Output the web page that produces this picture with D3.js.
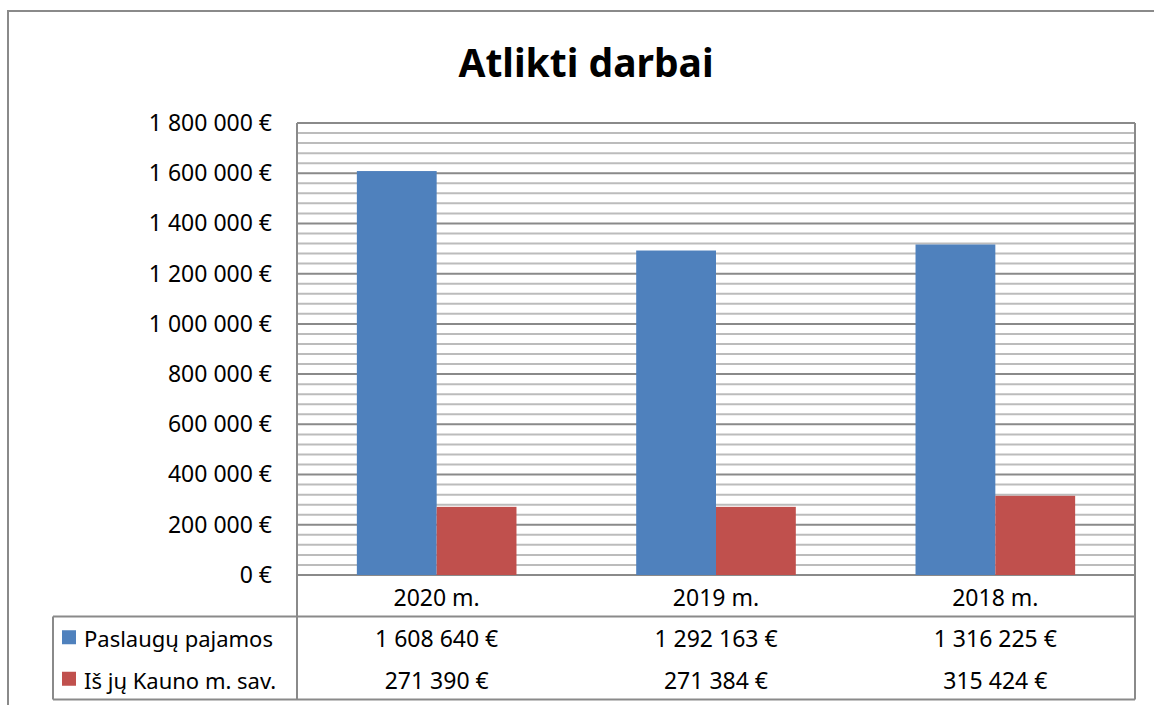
<!DOCTYPE html>
<html>
<head>
<meta charset="utf-8">
<script src="https://cdn.jsdelivr.net/npm/d3@7"></script>
<style>
  body { margin: 0; background: #fff; }
  text { font-family: 'Noto Sans', 'Open Sans', sans-serif; fill: #000; }
</style>
</head>
<body>
<div id="chart"></div>
<script>
const categories = ['2020 m.', '2019 m.', '2018 m.'];
const seriesNames = ['Paslaugų pajamos', 'Iš jų Kauno m. sav.'];
const paslauguPajamos = [1608640, 1292163, 1316225];
const kaunoSav = [271390, 271384, 315424];
const seriesColors = ['#4F81BD', '#C0504D'];
const yMax = 1800000;
const majorStep = 200000;
const minorStep = 40000;

const W = 1154;
const H = 705;
const plot = { left: 297, right: 1135, top: 123, bottom: 575 };
const table = { left: 53, rowH: 41.5 };
const fontSize = '23px';

const locale = d3.formatLocale({ decimal: ',', thousands: '\u00a0', grouping: [3], currency: ['', ' €'] });
const fmt = (v) => `${locale.format(',')(v)} €`;

const svg = d3.select('#chart')
  .append('svg')
  .attr('width', W)
  .attr('height', H);

// outer frame (runs off the right and bottom edge)
svg.append('rect')
  .attr('x', 8).attr('y', 11)
  .attr('width', 1300).attr('height', 900)
  .attr('fill', 'none')
  .attr('stroke', '#8a8a8a')
  .attr('stroke-width', 2);

svg.append('text')
  .attr('x', 586)
  .attr('y', 77)
  .attr('text-anchor', 'middle')
  .style('font-size', '39px')
  .style('font-weight', 'bold')
  .text('Atlikti darbai');

const y = d3.scaleLinear().domain([0, yMax]).range([plot.bottom, plot.top]);
const x = d3.scaleBand().domain(categories).range([plot.left, plot.right]);
const xs = d3.scaleBand().domain(seriesNames).range([0, x.bandwidth()]).paddingOuter(0.75);

// gridlines
const minor = d3.range(0, yMax + 1, minorStep).filter((v) => v % majorStep !== 0);
svg.append('g').selectAll('line')
  .data(minor).enter()
  .append('line')
  .attr('x1', plot.left).attr('x2', plot.right)
  .attr('y1', (d) => y(d)).attr('y2', (d) => y(d))
  .attr('stroke', '#bcbcbc')
  .attr('stroke-width', 2);

const major = d3.range(0, yMax + 1, majorStep);
svg.append('g').selectAll('line')
  .data(major).enter()
  .append('line')
  .attr('x1', plot.left).attr('x2', plot.right)
  .attr('y1', (d) => y(d)).attr('y2', (d) => y(d))
  .attr('stroke', '#8a8a8a')
  .attr('stroke-width', 2);

// bars
const values = [paslauguPajamos, kaunoSav];
const rows = categories.map((c, i) => ({ cat: c, vals: seriesNames.map((s, j) => ({ s, v: values[j][i], j })) }));

svg.append('g').selectAll('g')
  .data(rows).enter()
  .append('g')
  .attr('transform', (d) => `translate(${x(d.cat)},0)`)
  .selectAll('rect')
  .data((d) => d.vals).enter()
  .append('rect')
  .attr('x', (d) => xs(d.s))
  .attr('width', xs.bandwidth())
  .attr('y', (d) => y(d.v))
  .attr('height', (d) => y(0) - y(d.v))
  .attr('fill', (d) => seriesColors[d.j]);

// y axis labels
const yAxis = d3.axisLeft(y).tickValues(major).tickFormat(fmt).tickSize(0).tickPadding(25);
const gy = svg.append('g')
  .attr('transform', `translate(${plot.left},0)`)
  .call(yAxis);
gy.select('.domain').remove();
gy.selectAll('text')
  .style('font-size', fontSize)
  .style('font-family', "'Noto Sans', sans-serif")
  .attr('fill', '#000');

// data table lines
const t1 = plot.bottom + table.rowH;
const t3 = t1 + 2 * table.rowH;
const lineColor = '#8a8a8a';
const tableLines = [
  [plot.left, plot.top, plot.left, t3],
  [plot.right, plot.top, plot.right, t3],
  [table.left, t1, plot.right, t1],
  [table.left, t3, plot.right, t3],
  [table.left, t1, table.left, t3],
];
svg.append('g').selectAll('line')
  .data(tableLines).enter()
  .append('line')
  .attr('x1', (d) => d[0]).attr('y1', (d) => d[1])
  .attr('x2', (d) => d[2]).attr('y2', (d) => d[3])
  .attr('stroke', lineColor)
  .attr('stroke-width', 2);

// category labels
svg.append('g').selectAll('text')
  .data(categories).enter()
  .append('text')
  .attr('x', (d) => x(d) + x.bandwidth() / 2)
  .attr('y', plot.bottom + table.rowH / 2 + 1)
  .attr('text-anchor', 'middle')
  .attr('dominant-baseline', 'central')
  .style('font-size', fontSize)
  .text((d) => d);

// table rows: legend + values
seriesNames.forEach((s, j) => {
  const cy = t1 + table.rowH * j + table.rowH / 2;
  svg.append('rect')
    .attr('x', 62).attr('y', cy - 7)
    .attr('width', 14).attr('height', 14)
    .attr('fill', seriesColors[j]);
  svg.append('text')
    .attr('x', 84).attr('y', cy + 1)
    .attr('dominant-baseline', 'central')
    .style('font-size', '22px')
    .text(s);
  svg.append('g').selectAll('text')
    .data(categories).enter()
    .append('text')
    .attr('x', (d) => x(d) + x.bandwidth() / 2)
    .attr('y', cy + 1)
    .attr('text-anchor', 'middle')
    .attr('dominant-baseline', 'central')
    .style('font-size', fontSize)
    .text((d, i) => fmt(values[j][i]));
});
</script>
</body>
</html>
